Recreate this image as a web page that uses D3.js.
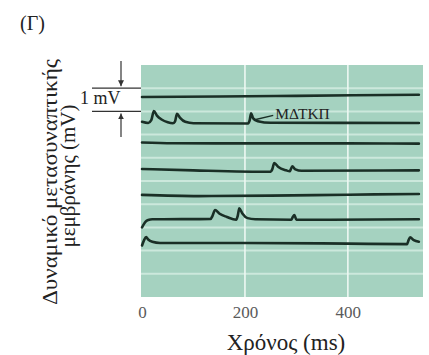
<!DOCTYPE html>
<html>
<head>
<meta charset="utf-8">
<script src="https://cdn.jsdelivr.net/npm/d3@7"></script>
<style>
  html, body { margin: 0; padding: 0; background: #fff; }
  svg { display: block; }
  text { font-family: "Liberation Serif", "DejaVu Serif", serif; }
</style>
</head>
<body>
<svg id="chart" width="429" height="355"></svg>
<script>
// ---- data (time in ms, potential in mV, stacked recordings) ----
const xTicks = [0, 200, 400];
const gridMv = [1, 2, 3, 4, 5, 6, 7, 8, 9];
const scaleBarMv = [8, 9];

const trace1 = [[0, 8.62], [150, 8.64], [300, 8.67], [538, 8.72]];
const trace2 = [[0, 7.55], [12, 7.5], [18, 7.62], [23, 8.02], [29, 7.82], [38, 7.65], [50, 7.53], [60, 7.49],
                [64, 7.56], [68, 7.9], [74, 7.72], [84, 7.55], [100, 7.49], [206, 7.48], [209, 7.6],
                [212, 7.92], [216, 7.7], [225, 7.58], [250, 7.51], [538, 7.5]];
const trace3 = [[0, 6.66], [60, 6.63], [200, 6.62], [400, 6.62], [538, 6.61]];
const trace4 = [[0, 5.52], [100, 5.46], [250, 5.4], [253, 5.5], [257, 5.77], [265, 5.6], [280, 5.46],
                [287, 5.42], [289, 5.5], [292, 5.63], [298, 5.5], [310, 5.44], [538, 5.46]];
const trace5 = [[0, 4.4], [110, 4.35], [250, 4.37], [400, 4.41], [538, 4.44]];
const trace6 = [[0, 3.0], [3, 3.12], [7, 3.25], [12, 3.32], [20, 3.35], [133, 3.36], [137, 3.5], [142, 3.75],
                [150, 3.6], [165, 3.45], [183, 3.33], [186, 3.5], [189, 3.82], [195, 3.6], [205, 3.4],
                [220, 3.35], [290, 3.33], [293, 3.45], [296, 3.53], [300, 3.33], [538, 3.35]];
const trace7 = [[0, 2.22], [4, 2.45], [8, 2.58], [12, 2.48], [20, 2.38], [35, 2.33], [200, 2.33],
                [400, 2.3], [515, 2.28], [518, 2.45], [521, 2.57], [528, 2.45], [538, 2.38]];
const traces = [trace1, trace2, trace3, trace4, trace5, trace6, trace7];

const annotation = { label: "ΜΔΤΚΠ", t: 217, v: 7.63, tt: 255, tv: 7.87 };

// ---- layout ----
const svg = d3.select("#chart");
const plot = { left: 141, right: 423, top: 65, bottom: 297 };

const x = d3.scaleLinear().domain([-2, 546]).range([plot.left, plot.right]);
const y = d3.scaleLinear().domain([0, 10]).range([plot.bottom, plot.top]);

// background
svg.append("rect")
  .attr("x", plot.left).attr("y", plot.top)
  .attr("width", plot.right - plot.left).attr("height", plot.bottom - plot.top)
  .attr("fill", "#a5d2c0");

// horizontal grid (light stripes)
svg.append("g").selectAll("line").data(gridMv).join("line")
  .attr("x1", plot.left).attr("x2", plot.right)
  .attr("y1", d => y(d)).attr("y2", d => y(d))
  .attr("stroke", "#cce8dc").attr("stroke-width", 2);

// vertical grid (white)
svg.append("g").selectAll("line").data(xTicks.filter(d => d > 0)).join("line")
  .attr("x1", d => x(d)).attr("x2", d => x(d))
  .attr("y1", plot.top).attr("y2", plot.bottom)
  .attr("stroke", "#eef8f3").attr("stroke-width", 1.6);

// traces
const line = d3.line().x(d => x(d[0])).y(d => y(d[1])).curve(d3.curveMonotoneX);
svg.append("g").selectAll("path").data(traces).join("path")
  .attr("d", line)
  .attr("fill", "none")
  .attr("stroke", "#1a2f26")
  .attr("stroke-width", 2.6)
  .attr("stroke-linejoin", "round")
  .attr("stroke-linecap", "round");

// annotation
svg.append("line")
  .attr("x1", x(annotation.t)).attr("y1", y(annotation.v))
  .attr("x2", x(annotation.tt)).attr("y2", y(annotation.tv) + 1)
  .attr("stroke", "#1a2f26").attr("stroke-width", 1.4);
svg.append("text")
  .attr("x", x(annotation.tt) + 2).attr("y", y(annotation.tv) + 5)
  .attr("font-size", 15.5).attr("fill", "#222")
  .text(annotation.label);

// scale bar 1 mV
const sb = svg.append("g");
sb.selectAll("line.sb").data(scaleBarMv).join("line")
  .attr("class", "sb")
  .attr("x1", 92).attr("x2", plot.left)
  .attr("y1", d => y(d)).attr("y2", d => y(d))
  .attr("stroke", "#333").attr("stroke-width", 1.3);
sb.append("text").attr("x", 80).attr("y", 104).attr("font-size", 18).attr("fill", "#222").text("1 mV");

const defs = svg.append("defs");
defs.append("marker").attr("id", "arr").attr("viewBox", "0 0 10 10")
  .attr("refX", 10).attr("refY", 5).attr("markerWidth", 5).attr("markerHeight", 6)
  .attr("orient", "auto")
  .append("path").attr("d", "M0,0 L10,5 L0,10 z").attr("fill", "#333");
sb.append("line").attr("x1", 121).attr("x2", 121)
  .attr("y1", 61).attr("y2", y(9) - 2)
  .attr("stroke", "#333").attr("stroke-width", 1.2).attr("marker-end", "url(#arr)");
sb.append("line").attr("x1", 121).attr("x2", 121)
  .attr("y1", 137).attr("y2", y(8) + 2)
  .attr("stroke", "#333").attr("stroke-width", 1.2).attr("marker-end", "url(#arr)");

// x axis (labels only)
const xAxis = d3.axisBottom(x).tickValues(xTicks).tickSize(0).tickPadding(0);
const gx = svg.append("g").attr("transform", `translate(0, ${plot.bottom + 9})`).call(xAxis);
gx.select(".domain").remove();
gx.selectAll("text")
  .attr("font-family", "Liberation Serif, serif")
  .attr("font-size", 17).attr("fill", "#5a5a5a");

// x title
svg.append("text").attr("x", 286).attr("y", 350).attr("text-anchor", "middle")
  .attr("font-size", 23).attr("fill", "#222").text("Χρόνος (ms)");

// y title
svg.append("text").attr("transform", "translate(57,182) rotate(-90)")
  .attr("text-anchor", "middle").attr("font-size", 21).attr("fill", "#222")
  .attr("textLength", 246).attr("lengthAdjust", "spacingAndGlyphs")
  .text("Δυναμικό μετασυναπτικής");
svg.append("text").attr("transform", "translate(75,176) rotate(-90)")
  .attr("text-anchor", "middle").attr("font-size", 21).attr("fill", "#222")
  .text("μεμβράνης (mV)");

// panel letter
svg.append("text").attr("x", 20).attr("y", 30).attr("font-size", 20).attr("fill", "#222").text("(Γ)");
</script>
</body>
</html>
